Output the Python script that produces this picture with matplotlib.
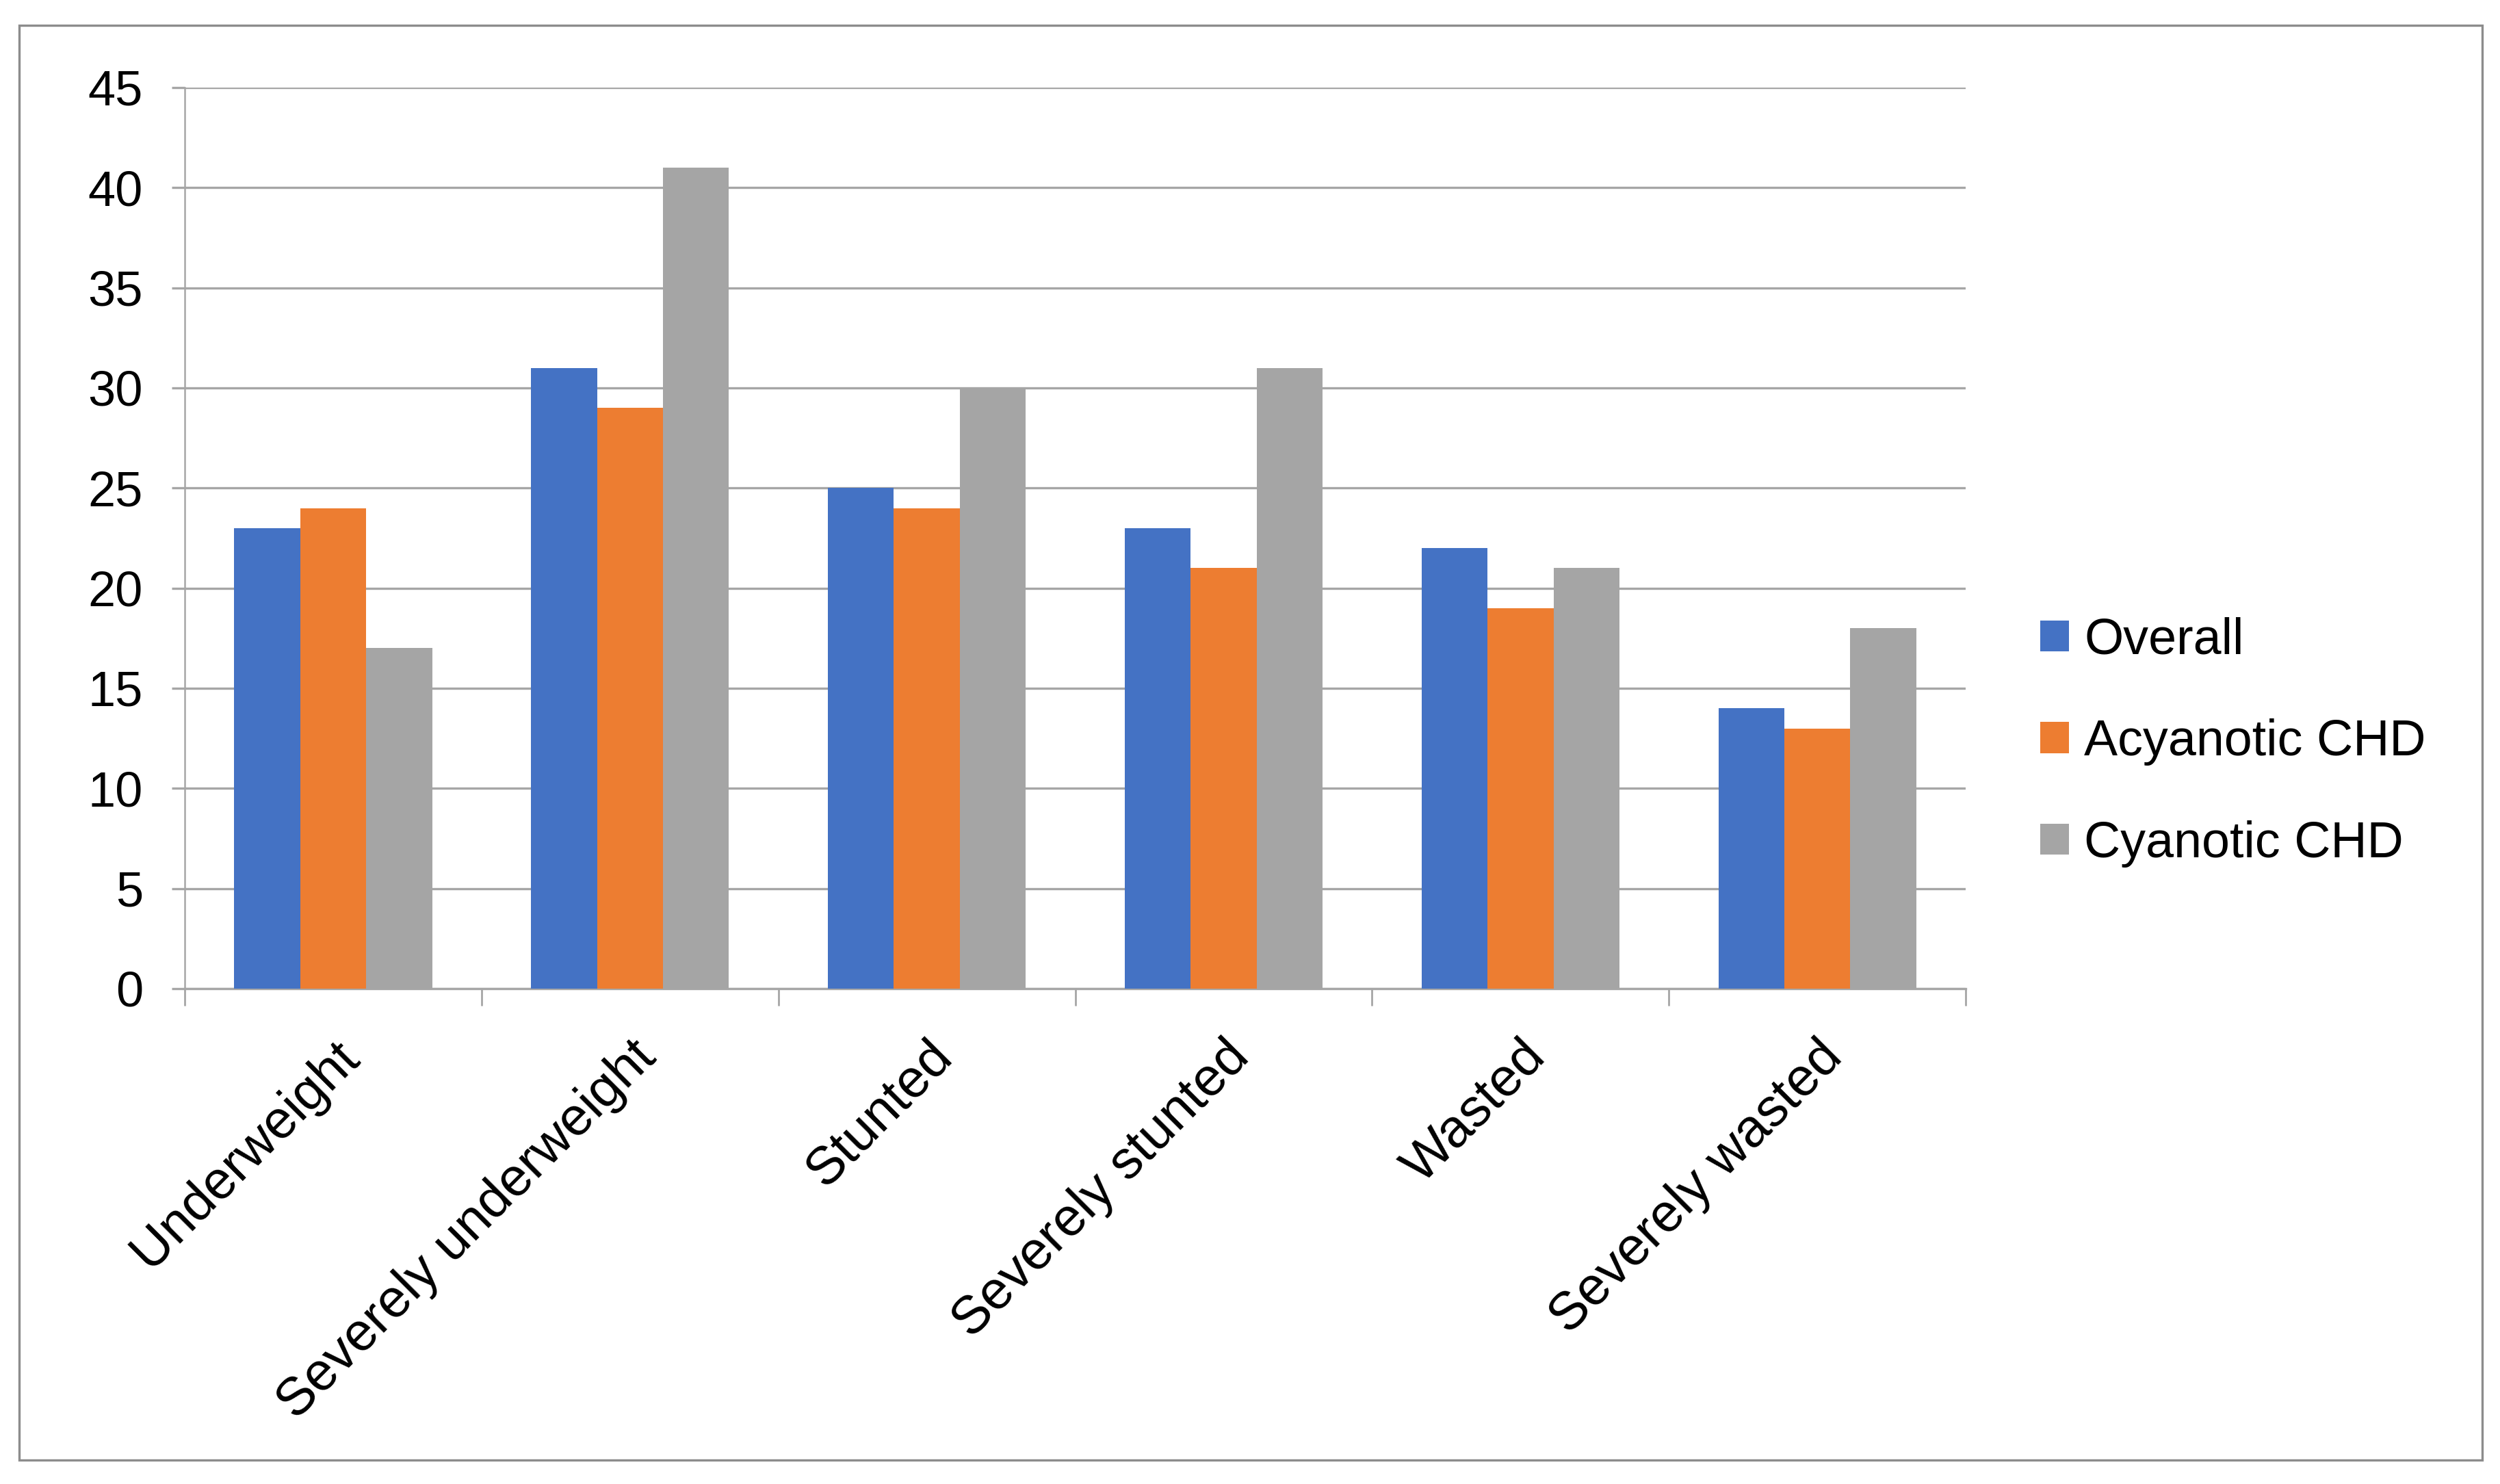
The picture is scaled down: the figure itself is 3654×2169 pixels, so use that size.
import numpy as np
import matplotlib.pyplot as plt
from matplotlib.patches import Rectangle

categories = ['Underweight', 'Severely underweight', 'Stunted',
              'Severely stunted', 'Wasted', 'Severely wasted']
overall = [23, 31, 25, 23, 22, 14]
acyanotic = [24, 29, 24, 21, 19, 13]
cyanotic = [17, 41, 30, 31, 21, 18]
series_names = ['Overall', 'Acyanotic CHD', 'Cyanotic CHD']
colors = ['#4472C4', '#ED7D31', '#A5A5A5']
yticks = [0, 5, 10, 15, 20, 25, 30, 35, 40, 45]

plt.rcParams['font.family'] = ['Liberation Sans', 'DejaVu Sans']

fig = plt.figure(figsize=(36.54, 21.69), dpi=100)
ax = fig.add_axes([0.0739, 0.3338, 0.7124, 0.6072])

x = np.arange(len(categories))
w = 1 / 4.5
for i, (vals, name, c) in enumerate(zip([overall, acyanotic, cyanotic], series_names, colors)):
    ax.bar(x + (i - 1) * w, vals, width=w, color=c, label=name, zorder=3)

ax.set_xlim(-0.5, len(categories) - 0.5)
ax.set_ylim(0, 45)
ax.set_yticks(yticks)
ax.yaxis.grid(True, color='#A6A6A6', linewidth=2.4, zorder=0)
ax.tick_params(axis='y', length=14, width=2.4, color='#A6A6A6', pad=30, labelsize=52)

ax.set_xticks(x)
ax.set_xticklabels(categories, rotation=45, ha='right', rotation_mode='anchor', fontsize=56)
ax.tick_params(axis='x', which='major', length=0, pad=45)
ax.set_xticks(np.arange(len(categories) + 1) - 0.5, minor=True)
ax.tick_params(axis='x', which='minor', length=18, width=2, color='#A6A6A6')

for s in ['top', 'right']:
    ax.spines[s].set_visible(False)
ax.spines['bottom'].set_color('#A6A6A6')
ax.spines['bottom'].set_linewidth(2.4)
ax.spines['left'].set_color('#A6A6A6')
ax.spines['left'].set_linewidth(1.8)

fig.legend(loc='center left', bbox_to_anchor=(0.816, 0.5), frameon=False,
           fontsize=53, handlelength=0.58, handleheight=0.58, handletextpad=0.3,
           labelspacing=1.08, borderpad=0, borderaxespad=0)

fig.patches.append(Rectangle((0.0077, 0.0161), 0.9852, 0.967, transform=fig.transFigure,
                             fill=False, edgecolor='#8C8C8C', linewidth=2.4))

fig.savefig('out.png', dpi=100, facecolor='white')
